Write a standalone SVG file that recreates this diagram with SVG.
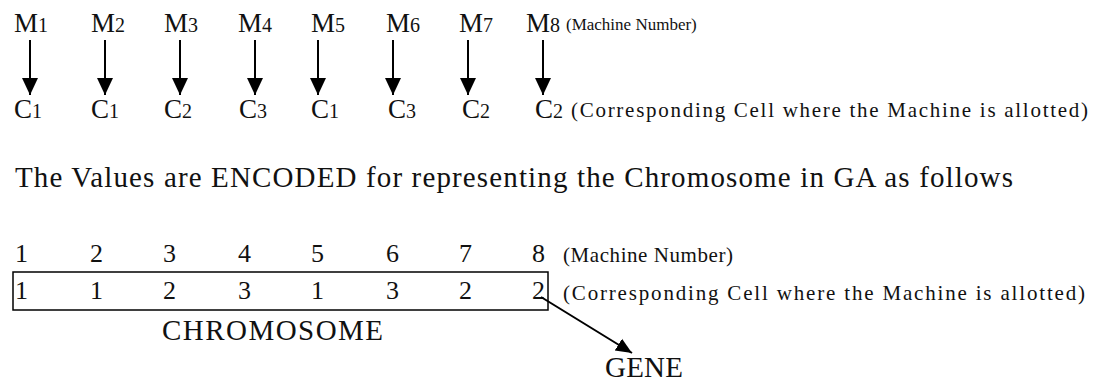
<svg xmlns="http://www.w3.org/2000/svg" width="1096" height="383" viewBox="0 0 1096 383">
<style>
text{font-family:"Liberation Serif","Times New Roman",serif;fill:#111}
.m{font-size:27px}
.s{font-size:20px}
.lbl{font-size:21px}
.h{font-size:29px}
.n{font-size:26px}
.conn{stroke:#000;stroke-width:2;fill:none}
</style>
<defs>
<marker id="ah" markerUnits="userSpaceOnUse" markerWidth="17" markerHeight="16" viewBox="0 0 17 16" refX="17" refY="8" orient="auto">
<path d="M0,0 L17,8 L0,16 Z" fill="#000"/>
</marker>
<marker id="ah2" markerUnits="userSpaceOnUse" markerWidth="16" markerHeight="16" viewBox="0 0 16 16" refX="16" refY="8" orient="auto">
<path d="M0,1 L16,8 L0,15 Z" fill="#000"/>
</marker>
</defs>
<rect width="1096" height="383" fill="#fff"/>
<g id="machines">
<text class="m" x="14" y="32">M<tspan class="s">1</tspan></text>
<text class="m" x="91" y="32">M<tspan class="s">2</tspan></text>
<text class="m" x="164" y="32">M<tspan class="s">3</tspan></text>
<text class="m" x="238" y="32">M<tspan class="s">4</tspan></text>
<text class="m" x="311" y="32">M<tspan class="s">5</tspan></text>
<text class="m" x="386" y="32">M<tspan class="s">6</tspan></text>
<text class="m" x="459" y="32">M<tspan class="s">7</tspan></text>
<text class="m" x="526" y="32">M<tspan class="s">8</tspan></text>
<text x="566" y="30" font-size="17">(Machine Number)</text>
</g>
<g id="cells">
<text class="m" x="14" y="118">C<tspan class="s">1</tspan></text>
<text class="m" x="91" y="118">C<tspan class="s">1</tspan></text>
<text class="m" x="164" y="118">C<tspan class="s">2</tspan></text>
<text class="m" x="239" y="118">C<tspan class="s">3</tspan></text>
<text class="m" x="311" y="118">C<tspan class="s">1</tspan></text>
<text class="m" x="388" y="118">C<tspan class="s">3</tspan></text>
<text class="m" x="462" y="118">C<tspan class="s">2</tspan></text>
<text class="m" x="535" y="118">C<tspan class="s">2</tspan></text>
<text class="lbl" x="571" y="117" textLength="517" lengthAdjust="spacing">(Corresponding Cell where the Machine is allotted)</text>
</g>
<g id="heading">
<text class="h" x="15" y="187" textLength="998" lengthAdjust="spacing">The Values are ENCODED for representing the Chromosome in GA as follows</text>
</g>
<g id="machine-numbers">
<text class="n" x="15" y="262">1</text>
<text class="n" x="90" y="262">2</text>
<text class="n" x="163" y="262">3</text>
<text class="n" x="238" y="262">4</text>
<text class="n" x="311" y="262">5</text>
<text class="n" x="386" y="262">6</text>
<text class="n" x="459" y="262">7</text>
<text class="n" x="532" y="262">8</text>
<text class="lbl" x="563" y="262" textLength="170" lengthAdjust="spacing">(Machine Number)</text>
</g>
<g id="chromosome">
<rect x="13" y="272" width="535" height="38" fill="none" stroke="#000" stroke-width="1.5"/>
<text class="n" x="15" y="299">1</text>
<text class="n" x="90" y="299">1</text>
<text class="n" x="163" y="299">2</text>
<text class="n" x="238" y="299">3</text>
<text class="n" x="311" y="299">1</text>
<text class="n" x="386" y="299">3</text>
<text class="n" x="459" y="299">2</text>
<text class="n" x="532" y="299">2</text>
<text class="lbl" x="563" y="300" textLength="522" lengthAdjust="spacing">(Corresponding Cell where the Machine is allotted)</text>
<text class="h" x="162" y="340" textLength="221" lengthAdjust="spacing">CHROMOSOME</text>
</g>
<g id="gene">
<text class="h" x="605" y="377" textLength="78" lengthAdjust="spacing">GENE</text>
</g>
<g id="connectors">
<line class="conn" x1="30" y1="40" x2="30" y2="95" marker-end="url(#ah)"/>
<line class="conn" x1="105" y1="40" x2="105" y2="95" marker-end="url(#ah)"/>
<line class="conn" x1="180" y1="40" x2="180" y2="95" marker-end="url(#ah)"/>
<line class="conn" x1="255" y1="40" x2="255" y2="95" marker-end="url(#ah)"/>
<line class="conn" x1="318" y1="40" x2="318" y2="95" marker-end="url(#ah)"/>
<line class="conn" x1="393" y1="40" x2="393" y2="95" marker-end="url(#ah)"/>
<line class="conn" x1="468" y1="40" x2="468" y2="95" marker-end="url(#ah)"/>
<line class="conn" x1="543" y1="40" x2="543" y2="95" marker-end="url(#ah)"/>
<line class="conn" x1="541" y1="297" x2="632" y2="353" stroke-width="1.5" marker-end="url(#ah2)"/>
</g>
</svg>
